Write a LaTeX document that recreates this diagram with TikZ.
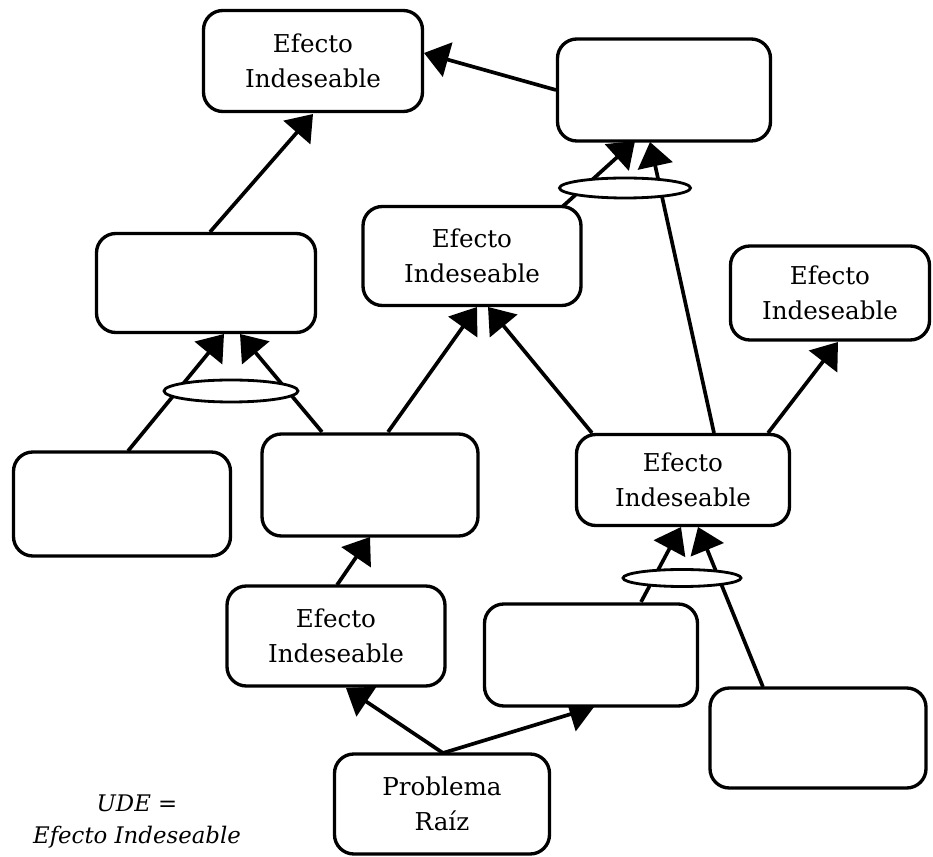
\documentclass[tikz,border=0pt]{standalone}
\usepackage{fontspec}
\setmainfont{DejaVu Serif}
\usetikzlibrary{arrows.meta,shapes.geometric,calc}
\pgfdeclarelayer{bg}
\pgfsetlayers{bg,main}
\begin{document}
\begin{tikzpicture}[x=0.02cm,y=-0.02cm,
  box/.style={draw, line width=1.9pt, rounded corners=11pt, fill=white, align=center,
    inner sep=0pt, font=\fontsize{14}{20}\selectfont},
  sz/.style 2 args={minimum width={#1*0.02cm}, minimum height={#2*0.02cm}},
  link/.style={line width=2.1pt, -{Triangle[length=14pt,width=20pt]}},
  knot/.style={draw, ellipse, line width=1.6pt, fill=white, inner sep=0pt},
  legend/.style={font=\itshape\fontsize{13}{17}\selectfont, inner sep=0pt}]
\useasboundingbox (0,0) rectangle (933,857);
% boxes
\node[box, sz={219}{101}] (b1) at (313,61) {Efecto\\Indeseable};
\node[box, sz={213}{102}] (b2) at (664,90) {};
\node[box, sz={219}{99}]  (b3) at (206,283) {};
\node[box, sz={218}{99}]  (b4) at (472,256) {Efecto\\Indeseable};
\node[box, sz={199}{94}]  (b5) at (830,293) {Efecto\\Indeseable};
\node[box, sz={217}{104}] (b6) at (122,504) {};
\node[box, sz={216}{102}] (b7) at (370,485) {};
\node[box, sz={213}{91}]  (b8) at (683,480) {Efecto\\Indeseable};
\node[box, sz={218}{100}] (b9) at (336,636) {Efecto\\Indeseable};
\node[box, sz={213}{102}] (b10) at (591,655) {};
\node[box, sz={216}{100}] (b11) at (818,738) {};
\node[box, sz={215}{100}] (b12) at (442,804) {Problema\\Raíz};
% ellipses (AND connectors)
\node[knot, sz={134}{22}] (e1) at (231,391) {};
\node[knot, sz={131}{20}] (e2) at (625,188) {};
\node[knot, sz={118}{17}] (e3) at (682,578) {};
% legend
\node[legend] (l1) at (137,803) {UDE =};
\node[legend] (l2) at (137,837) {Efecto Indeseable};
% connectors
\begin{pgfonlayer}{bg}
\draw[link] ([shift={(4,-51)}]b3.center) -- ([shift={(0,53)}]b1.center);
\draw[link] ([shift={(-108,0)}]b2.center) -- ([shift={(111,-8)}]b1.center);
\draw[link] ([shift={(6,-53)}]b6.center) -- ([shift={(18,51)}]b3.center);
\draw[link] ([shift={(-48,-53)}]b7.center) -- ([shift={(34,51)}]b3.center);
\draw[link] ([shift={(89,-48)}]b4.center) -- ([shift={(-29,51)}]b2.center);
\draw[link] ([shift={(31,-47)}]b8.center) -- ([shift={(-14,52)}]b2.center);
\draw[link] ([shift={(18,-53)}]b7.center) -- ([shift={(5,51)}]b4.center);
\draw[link] ([shift={(-91,-47)}]b8.center) -- ([shift={(16,51)}]b4.center);
\draw[link] ([shift={(85,-47)}]b8.center) -- ([shift={(8,49)}]b5.center);
\draw[link] ([shift={(1,-51)}]b9.center) -- ([shift={(0,52)}]b7.center);
\draw[link] ([shift={(50,-53)}]b10.center) -- ([shift={(-2,47)}]b8.center);
\draw[link] ([shift={(-55,-51)}]b11.center) -- ([shift={(15,47)}]b8.center);
\draw[link] ([shift={(1,-51)}]b12.center) -- ([shift={(10,52)}]b9.center);
\draw[link] ([shift={(1,-51)}]b12.center) -- ([shift={(3,52)}]b10.center);
\end{pgfonlayer}
\end{tikzpicture}
\end{document}
